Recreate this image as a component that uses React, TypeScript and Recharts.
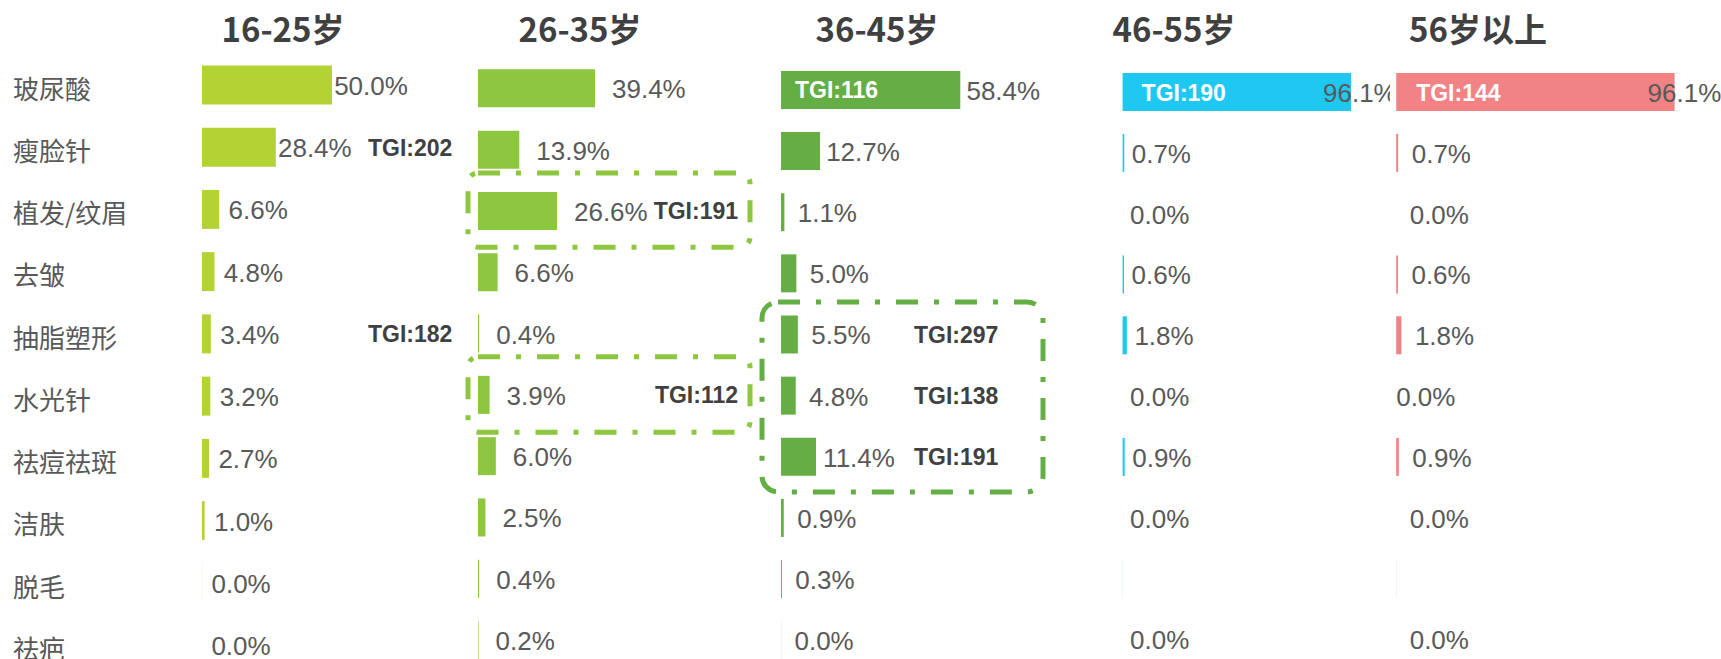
import React from 'react';
import { BarChart, Bar, XAxis, YAxis, LabelList, ReferenceArea } from 'recharts';

const categories = ['玻尿酸', '瘦脸针', '植发/纹眉', '去皱', '抽脂塑形', '水光针', '祛痘祛斑', '洁肤', '脱毛', '祛疤'];

// share of each age group (%)
const share16to25 = [50.0, 28.4, 6.6, 4.8, 3.4, 3.2, 2.7, 1.0, 0.04, 0];
const share26to35 = [39.4, 13.9, 26.6, 6.6, 0.4, 3.9, 6.0, 2.5, 0.4, 0.2];
const share36to45 = [58.4, 12.7, 1.1, 5.0, 5.5, 4.8, 11.4, 0.9, 0.3, 0.03];
const share46to55 = [96.1, 0.7, 0, 0.6, 1.8, 0, 0.9, 0, 0.04, 0];
const share56plus = [96.1, 0.7, 0, 0.6, 1.8, 0, 0.9, 0, 0.04, 0];

const tgi16to25 = [null, 202, null, null, 182, null, null, null, null, null];
const tgi26to35 = [null, null, 191, null, null, 112, null, null, null, null];
const tgi36to45 = [116, null, null, null, 297, 138, 191, null, null, null];
const tgi46to55 = [190, null, null, null, null, null, null, null, null, null];
const tgi56plus = [144, null, null, null, null, null, null, null, null, null];

const titles = ['16-25岁', '26-35岁', '36-45岁', '46-55岁', '56岁以上'];

const VALUE_FONT = '"Liberation Sans", Arial, Helvetica, sans-serif';
const CJK_FONT = '"Noto Sans CJK SC", "Microsoft YaHei", sans-serif';
const LABEL_GREY = '#595959';
const TGI_DARK = '#404040';

type Box = {
  from: string;
  to: string;
  dxLeft: number;
  dxRight: number;
  padTop: number;
  padBottom: number;
  rx: number;
  color: string;
};

type Panel = {
  title: string;
  titleX: number;
  values: number[];
  tgi: (number | null)[];
  hiddenLabels: string[];
  flushLabels: string[];
  color: string;
  left: number;
  width: number;
  plotLeft: number;
  pxPerPct: number;
  domainMax: number;
  plotTop: number;
  rowStep: number;
  barSize: number;
  labelAnchor: 'start' | 'middle';
  labelOffset: number;
  bigShift?: number;
  tgiX: number;
  tgiInsideX: number;
  tgiAnchor: 'start' | 'end';
  boxes: Box[];
  showCategories?: boolean;
};

const panels: Panel[] = [
  {
    title: titles[0], titleX: 283, values: share16to25, tgi: tgi16to25, hiddenLabels: [], flushLabels: [],
    color: '#b3d334', left: 0, width: 458, plotLeft: 202, pxPerPct: 2.6, domainMax: 80,
    plotTop: 53.4, rowStep: 62.25, barSize: 39,
    labelAnchor: 'middle', labelOffset: 39, tgiX: 166, tgiInsideX: 14, tgiAnchor: 'start',
    boxes: [], showCategories: true,
  },
  {
    title: titles[1], titleX: 580, values: share26to35, tgi: tgi26to35, hiddenLabels: [], flushLabels: [],
    color: '#8dc63f', left: 458, width: 302, plotLeft: 478, pxPerPct: 2.97, domainMax: 60,
    plotTop: 57.35, rowStep: 61.3, barSize: 38,
    labelAnchor: 'start', labelOffset: 17, tgiX: 260, tgiInsideX: 14, tgiAnchor: 'end',
    boxes: [
      { from: '植发/纹眉', to: '植发/纹眉', dxLeft: -10, dxRight: 272, padTop: 7, padBottom: 6, rx: 10, color: '#8dc63f' },
      { from: '水光针', to: '水光针', dxLeft: -10, dxRight: 272, padTop: 7, padBottom: 7, rx: 10, color: '#8dc63f' },
    ],
  },
  {
    title: titles[2], titleX: 877, values: share36to45, tgi: tgi36to45, hiddenLabels: [], flushLabels: [],
    color: '#65ae45', left: 745, width: 330, plotLeft: 781, pxPerPct: 3.07, domainMax: 80,
    plotTop: 58.9, rowStep: 61.15, barSize: 38,
    labelAnchor: 'middle', labelOffset: 43, tgiX: 133, tgiInsideX: 14, tgiAnchor: 'start',
    boxes: [
      { from: '抽脂塑形', to: '祛痘祛斑', dxLeft: -19, dxRight: 262, padTop: 1.5, padBottom: 5, rx: 16, color: '#65ae45' },
    ],
  },
  {
    title: titles[3], titleX: 1174, values: share46to55, tgi: tgi46to55, hiddenLabels: ['脱毛'], flushLabels: [],
    color: '#1ec8f1', left: 1080, width: 310, plotLeft: 1122.6, pxPerPct: 2.377, domainMax: 100,
    plotTop: 62.1, rowStep: 60.8, barSize: 38,
    labelAnchor: 'start', labelOffset: 7.5, bigShift: -28, tgiX: 19, tgiInsideX: 19, tgiAnchor: 'start',
    boxes: [],
  },
  {
    title: titles[4], titleX: 1478, values: share56plus, tgi: tgi56plus, hiddenLabels: ['脱毛'], flushLabels: ['水光针'],
    color: '#f28385', left: 1390, width: 331, plotLeft: 1396.2, pxPerPct: 2.897, domainMax: 100,
    plotTop: 62.1, rowStep: 60.8, barSize: 38,
    labelAnchor: 'start', labelOffset: 13.5, bigShift: -27, tgiX: 20, tgiInsideX: 20, tgiAnchor: 'start',
    boxes: [],
  },
];

// zero bars would be dropped together with their labels, so give them a hair of width
const barValue = (d: { value: number }) => (d.value === 0 ? 1e-7 : d.value);

const makeValueLabel = (panel: Panel) => (props: any) => {
  const { x, y, width, height, index } = props;
  const value = panel.values[index];
  const name = categories[index];
  if (value == null || panel.hiddenLabels.includes(name)) return null;
  const end = Number(x) + Number(width);
  let tx = end + (panel.flushLabels.includes(name) ? 0 : panel.labelOffset);
  let anchor: 'start' | 'middle' = panel.labelAnchor;
  if (panel.bigShift != null && Number(width) > 150) {
    tx = end + panel.bigShift;
    anchor = 'start';
  }
  return (
    <text
      x={tx}
      y={Number(y) + Number(height) / 2 + 10}
      textAnchor={anchor}
      fontSize={26}
      fontFamily={VALUE_FONT}
      fill={LABEL_GREY}
    >
      {`${value.toFixed(1)}%`}
    </text>
  );
};

const makeTgiLabel = (panel: Panel) => (props: any) => {
  const { x, y, height, index } = props;
  const tgi = panel.tgi[index];
  if (tgi == null) return null;
  const barWidth = panel.values[index] * panel.pxPerPct;
  const inside = barWidth > 100;
  return (
    <text
      x={Number(x) + (inside ? panel.tgiInsideX : panel.tgiX)}
      y={Number(y) + Number(height) / 2 + 8.5}
      textAnchor={inside ? 'start' : panel.tgiAnchor}
      fontSize={23}
      fontWeight="bold"
      fontFamily={VALUE_FONT}
      fill={inside ? '#ffffff' : TGI_DARK}
    >
      {`TGI:${tgi}`}
    </text>
  );
};

const CategoryTick = (props: any) => {
  const { y, payload } = props;
  return (
    <text x={13} y={Number(y) + 14} fontSize={26} fontFamily={CJK_FONT} fill={LABEL_GREY}>
      {payload.value}
    </text>
  );
};

const AgePanel = ({ panel }: { panel: Panel }) => {
  const data = categories.map((name, i) => ({ name, value: panel.values[i], tgi: panel.tgi[i] }));
  const marginLeft = panel.plotLeft - panel.left;
  const plotWidth = panel.domainMax * panel.pxPerPct;
  const plotHeight = panel.rowStep * categories.length;
  const height = panel.plotTop + plotHeight;
  return (
    <div style={{ position: 'absolute', left: panel.left, top: 0 }}>
      <BarChart
        layout="vertical"
        width={panel.width}
        height={height}
        data={data}
        margin={{
          top: panel.plotTop,
          bottom: 0,
          left: panel.showCategories ? 0 : marginLeft,
          right: panel.width - marginLeft - plotWidth,
        }}
      >
        <XAxis type="number" domain={[0, panel.domainMax]} hide />
        {panel.showCategories ? (
          <YAxis
            type="category"
            dataKey="name"
            width={marginLeft}
            axisLine={false}
            tickLine={false}
            interval={0}
            tick={CategoryTick}
          />
        ) : (
          <YAxis type="category" dataKey="name" hide />
        )}
        {panel.boxes.map((box) => (
          <ReferenceArea
            key={box.from}
            y1={box.from}
            y2={box.to}
            ifOverflow="visible"
            shape={(p: any) => (
              <rect
                x={Number(p.x) + box.dxLeft}
                y={Number(p.y) - box.padTop}
                width={box.dxRight - box.dxLeft}
                height={Number(p.height) + box.padTop + box.padBottom}
                rx={box.rx}
                ry={box.rx}
                fill="none"
                stroke={box.color}
                strokeWidth={5}
                strokeDasharray="22 16 5 16"
              />
            )}
          />
        ))}
        <Bar dataKey={barValue} fill={panel.color} barSize={panel.barSize} isAnimationActive={false}>
          <LabelList dataKey="value" content={makeValueLabel(panel)} />
          <LabelList dataKey="tgi" content={makeTgiLabel(panel)} />
        </Bar>
      </BarChart>
    </div>
  );
};

export default function App() {
  return (
    <div
      style={{
        position: 'absolute',
        left: 0,
        top: 0,
        width: 1721,
        height: 659,
        overflow: 'hidden',
        background: '#ffffff',
      }}
    >
      {panels.map((panel) => (
        <AgePanel key={panel.title} panel={panel} />
      ))}
      <svg width={1721} height={70} style={{ position: 'absolute', left: 0, top: 0 }}>
        {panels.map((panel) => (
          <text
            key={panel.title}
            x={panel.titleX}
            y={41.5}
            textAnchor="middle"
            fontSize={33}
            fontWeight="bold"
            fontFamily={CJK_FONT}
            fill={TGI_DARK}
          >
            {panel.title}
          </text>
        ))}
      </svg>
    </div>
  );
}
